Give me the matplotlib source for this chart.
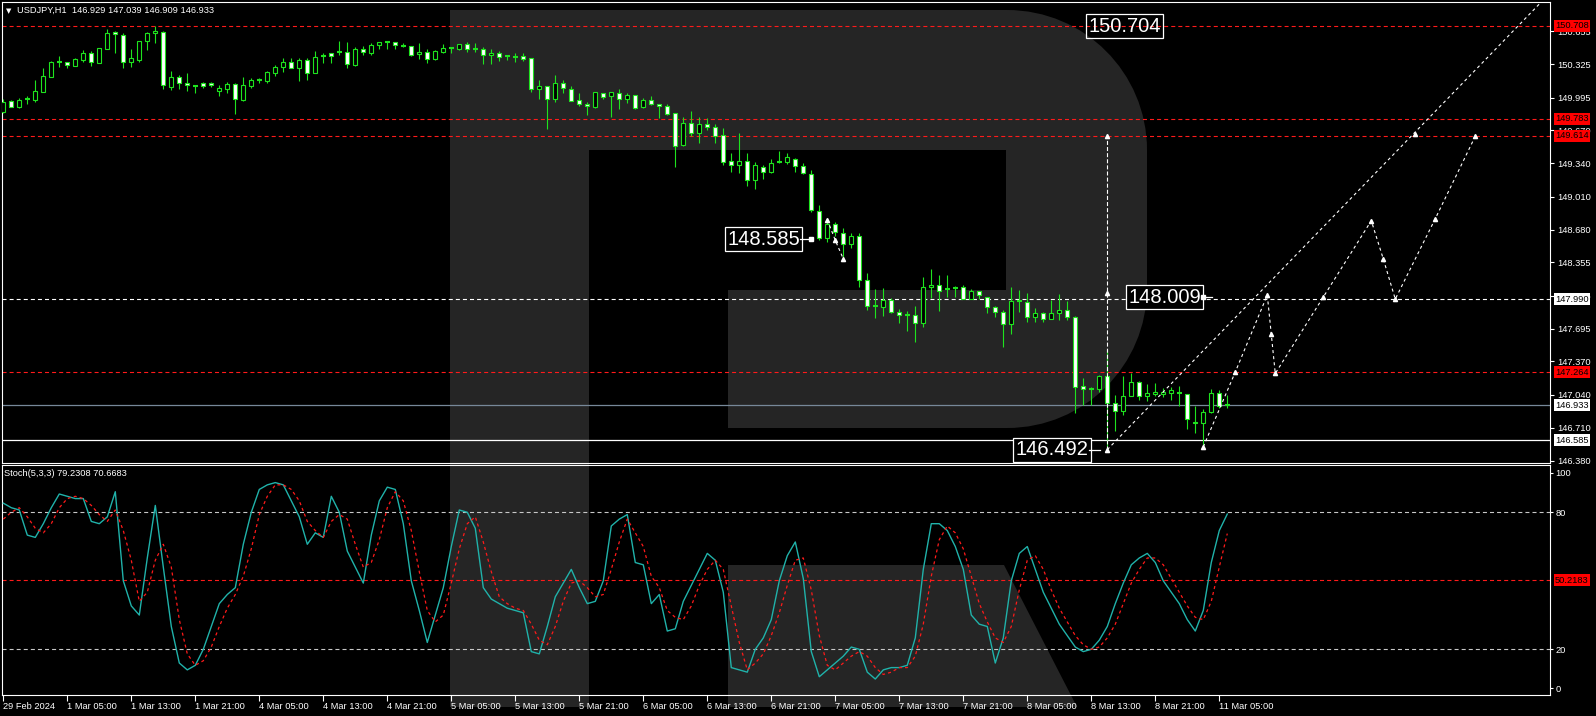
import matplotlib
matplotlib.use("Agg")
import matplotlib.pyplot as plt
from matplotlib.path import Path
from matplotlib.patches import PathPatch, Polygon
import numpy as np

plt.rcParams['font.family'] = ['Liberation Sans', 'DejaVu Sans']
plt.rcParams['lines.scale_dashes'] = False

# USDJPY H1, bar 0 = 29 Feb 21:00 ... bar 153 = 11 Mar 06:00
opens = [149.855, 149.958, 149.904, 149.975, 149.971, 150.054, 150.203, 150.345, 150.346, 150.312,
         150.369, 150.436, 150.342, 150.481, 150.648, 150.615, 150.346, 150.366, 150.555, 150.635,
         150.651, 150.103, 150.197, 150.137, 150.115, 150.137, 150.137, 150.058, 150.083, 150.127,
         149.968, 150.113, 150.165, 150.157, 150.237, 150.296, 150.349, 150.292, 150.366, 150.237,
         150.410, 150.436, 150.440, 150.446, 150.322, 150.476, 150.436, 150.515, 150.543, 150.545,
         150.510, 150.505, 150.426, 150.449, 150.382, 150.449, 150.488, 150.481, 150.525, 150.480,
         150.476, 150.416, 150.436, 150.405, 150.400, 150.406, 150.386, 150.077, 150.110, 149.978,
         150.137, 150.077, 149.968, 149.928, 149.905, 150.038, 150.008, 150.038, 149.984, 150.018,
         149.898, 149.971, 149.928, 149.908, 149.839, 149.526, 149.739, 149.640, 149.729, 149.699,
         149.620, 149.361, 149.321, 149.361, 149.172, 149.307, 149.258, 149.350, 149.351, 149.381,
         149.314, 149.239, 148.866, 148.598, 148.737, 148.648, 148.538, 148.618, 148.180, 147.920,
         147.914, 147.981, 147.859, 147.829, 147.829, 147.755, 148.107, 148.127, 148.092, 148.097,
         148.107, 147.994, 148.068, 148.008, 147.908, 147.859, 147.739, 147.968, 147.961, 147.809,
         147.849, 147.795, 147.849, 147.882, 147.809, 147.125, 147.090, 147.092, 147.225, 146.953,
         146.880, 147.026, 147.168, 147.026, 147.043, 147.043, 147.053, 147.052, 147.043, 146.770,
         146.754, 146.870, 147.059, 146.929]
highs = [149.978, 149.971, 149.991, 150.014, 150.170, 150.286, 150.359, 150.409, 150.352, 150.386,
         150.469, 150.459, 150.491, 150.677, 150.661, 150.638, 150.479, 150.560, 150.645, 150.708,
         150.658, 150.260, 150.217, 150.240, 150.120, 150.153, 150.153, 150.120, 150.150, 150.137,
         150.197, 150.193, 150.187, 150.263, 150.319, 150.386, 150.386, 150.386, 150.386, 150.459,
         150.442, 150.442, 150.558, 150.551, 150.501, 150.511, 150.535, 150.551, 150.558, 150.548,
         150.535, 150.511, 150.541, 150.476, 150.469, 150.528, 150.501, 150.531, 150.545, 150.541,
         150.501, 150.479, 150.459, 150.419, 150.436, 150.436, 150.390, 150.170, 150.113, 150.217,
         150.170, 150.110, 150.038, 149.951, 150.050, 150.040, 150.050, 150.083, 150.038, 150.020,
         149.991, 150.008, 149.930, 149.928, 149.842, 149.799, 149.862, 149.799, 149.789, 149.732,
         149.689, 149.441, 149.640, 149.441, 149.351, 149.321, 149.381, 149.463, 149.447, 149.391,
         149.345, 149.275, 148.926, 148.777, 148.757, 148.697, 148.648, 148.648, 148.250, 148.087,
         148.097, 148.001, 147.891, 147.875, 147.921, 148.207, 148.286, 148.230, 148.227, 148.120,
         148.130, 148.087, 148.070, 148.010, 147.921, 147.882, 148.107, 148.080, 148.048, 147.898,
         147.865, 147.981, 148.041, 147.968, 147.822, 147.202, 147.118, 147.235, 147.484, 147.036,
         147.225, 147.252, 147.170, 147.145, 147.152, 147.102, 147.118, 147.125, 147.045, 146.926,
         146.894, 147.092, 147.085, 147.039]
lows = [149.839, 149.898, 149.891, 149.931, 149.948, 150.050, 150.200, 150.302, 150.292, 150.310,
        150.352, 150.312, 150.336, 150.475, 150.436, 150.292, 150.302, 150.352, 150.469, 150.541,
        150.077, 150.071, 150.083, 150.064, 150.044, 150.087, 150.097, 150.014, 150.038, 149.829,
        149.965, 150.087, 150.137, 150.137, 150.213, 150.253, 150.286, 150.163, 150.170, 150.235,
        150.336, 150.336, 150.419, 150.292, 150.312, 150.419, 150.419, 150.476, 150.479, 150.476,
        150.495, 150.406, 150.376, 150.342, 150.369, 150.442, 150.436, 150.471, 150.452, 150.452,
        150.329, 150.329, 150.362, 150.369, 150.352, 150.362, 150.054, 149.984, 149.682, 149.954,
        150.044, 149.960, 149.914, 149.822, 149.894, 149.981, 149.805, 149.884, 149.944, 149.884,
        149.895, 149.921, 149.795, 149.819, 149.307, 149.516, 149.613, 149.546, 149.672, 149.540,
        149.321, 149.258, 149.248, 149.115, 149.082, 149.188, 149.242, 149.341, 149.334, 149.258,
        149.230, 148.857, 148.578, 148.558, 148.618, 148.389, 148.498, 148.110, 147.882, 147.799,
        147.822, 147.851, 147.755, 147.675, 147.566, 147.715, 147.998, 147.875, 148.014, 148.014,
        147.988, 147.988, 147.988, 147.855, 147.815, 147.516, 147.643, 147.862, 147.762, 147.762,
        147.762, 147.793, 147.782, 147.782, 146.860, 146.936, 146.936, 147.069, 146.492, 146.681,
        146.837, 147.024, 146.986, 146.979, 147.029, 147.016, 146.986, 146.926, 146.697, 146.661,
        146.521, 146.860, 146.906, 146.909]
closes = [149.954, 149.904, 149.971, 149.978, 150.061, 150.210, 150.349, 150.348, 150.316, 150.379,
          150.436, 150.346, 150.485, 150.635, 150.625, 150.346, 150.386, 150.555, 150.635, 150.655,
          150.117, 150.197, 150.140, 150.117, 150.112, 150.107, 150.117, 150.090, 150.127, 149.978,
          150.117, 150.170, 150.168, 150.250, 150.296, 150.349, 150.292, 150.369, 150.237, 150.402,
          150.413, 150.412, 150.444, 150.326, 150.476, 150.446, 150.515, 150.545, 150.546, 150.515,
          150.513, 150.416, 150.449, 150.382, 150.459, 150.485, 150.492, 150.525, 150.481, 150.482,
          150.416, 150.439, 150.402, 150.407, 150.403, 150.382, 150.077, 150.110, 149.978, 150.137,
          150.087, 149.964, 149.928, 149.908, 150.048, 149.998, 150.048, 149.984, 150.018, 149.894,
          149.971, 149.928, 149.908, 149.835, 149.516, 149.739, 149.640, 149.729, 149.699, 149.616,
          149.357, 149.321, 149.361, 149.172, 149.321, 149.252, 149.341, 149.352, 149.401, 149.314,
          149.245, 148.873, 148.598, 148.737, 148.658, 148.538, 148.618, 148.180, 147.924, 147.922,
          147.981, 147.859, 147.829, 147.831, 147.755, 148.113, 148.130, 148.073, 148.094, 148.099,
          147.994, 148.068, 148.031, 147.908, 147.859, 147.739, 147.971, 147.970, 147.809, 147.849,
          147.795, 147.849, 147.882, 147.809, 147.118, 147.092, 147.093, 147.225, 146.953, 146.880,
          147.026, 147.168, 147.026, 147.059, 147.063, 147.069, 147.083, 147.054, 146.794, 146.754,
          146.870, 147.059, 146.929, 146.933]

stoch_k = [84, 82, 81, 70, 69, 75, 82, 88, 87, 86, 86, 76, 75, 78, 89, 50, 39, 35, 60, 83,
           56, 30, 14, 11, 13, 20, 30, 40, 44, 47, 66, 80, 90, 92, 93, 92, 85, 78, 66, 71,
           69, 87, 80, 63, 56, 49, 70, 85, 91, 90, 75, 50, 37, 23, 35, 47, 65, 81, 80, 73,
           47, 42, 40, 38, 37, 36, 19, 18, 30, 43, 49, 55, 47, 40, 41, 50, 74, 77, 79, 58,
           57, 40, 44, 28, 29, 41, 48, 55, 62, 59, 45, 12, 11, 10, 20, 25, 33, 50, 61, 67,
           51, 19, 8, 11, 14, 17, 21, 20, 10, 7, 11, 12, 12, 13, 25, 55, 75, 75, 72, 65,
           55, 35, 31, 30, 14, 25, 50, 62, 65, 55, 45, 38, 31, 26, 21, 19, 20, 24, 30, 40,
           49, 57, 60, 62, 58, 50, 45, 40, 33, 28, 37, 58, 72, 79.23]
stoch_d = [77, 80, 82, 78, 73, 71, 75, 82, 86, 87, 86, 83, 79, 76, 81, 72, 59, 41, 45, 59,
           66, 56, 33, 18, 13, 15, 21, 30, 38, 44, 52, 64, 79, 87, 92, 92, 90, 85, 76, 72,
           69, 76, 79, 77, 66, 56, 58, 68, 82, 89, 85, 72, 54, 37, 32, 35, 49, 64, 75, 78,
           67, 54, 43, 40, 38, 37, 31, 24, 22, 30, 41, 49, 50, 47, 43, 44, 55, 67, 77, 71,
           65, 52, 47, 37, 34, 33, 39, 48, 55, 59, 55, 39, 23, 11, 14, 18, 26, 36, 48, 59,
           60, 46, 26, 13, 11, 14, 17, 19, 17, 12, 9, 10, 12, 12, 17, 31, 52, 68, 74, 71,
           64, 52, 40, 32, 25, 23, 30, 46, 59, 61, 55, 46, 38, 32, 26, 22, 20, 21, 25, 31,
           40, 49, 55, 60, 60, 57, 51, 45, 39, 34, 33, 41, 56, 70.67]

time_labels = ["29 Feb 2024", "1 Mar 05:00", "1 Mar 13:00", "1 Mar 21:00", "4 Mar 05:00",
               "4 Mar 13:00", "4 Mar 21:00", "5 Mar 05:00", "5 Mar 13:00", "5 Mar 21:00",
               "6 Mar 05:00", "6 Mar 13:00", "6 Mar 21:00", "7 Mar 05:00", "7 Mar 13:00",
               "7 Mar 21:00", "8 Mar 05:00", "8 Mar 13:00", "8 Mar 21:00", "11 Mar 05:00"]
price_ticks = [150.655, 150.325, 149.995, 149.670, 149.340, 149.010, 148.680, 148.355,
               148.025, 147.695, 147.370, 147.040, 146.710, 146.380]
red_levels = [150.708, 149.783, 149.614, 147.264]
white_level = 147.990
bid = 146.933
support = 146.585

# forecast drawing
trend_x = [138, 192.3]
trend_y = [146.492, 150.95]
zig_x = [150, 154, 158, 158.5, 159, 165, 171, 172.5, 174, 179, 184]
zig_y = [146.52, 147.264, 148.03, 147.64, 147.25, 148.01, 148.77, 148.39, 147.99, 148.79, 149.61]
target_x = [138, 138, 138]
target_y = [146.492, 148.054, 149.614]
small_x = [103, 104, 105]
small_y = [148.78, 148.575, 148.39]

W, H = 1596, 716
fig = plt.figure(figsize=(W / 100, H / 100), dpi=100, facecolor='black')


def frac(x0, y0, x1, y1):
    return [x0 / W, 1 - y1 / H, (x1 - x0) / W, (y1 - y0) / H]


# watermark logo behind the panels
bg = fig.add_axes([0, 0, 1, 1], zorder=0)
bg.set_xlim(0, W)
bg.set_ylim(H, 0)
bg.axis('off')
logo = '#252525'
r = 140
k = 0.552 * r
verts = [(450, 10), (1007, 10), (1007 + k, 10), (1147, 150 - k), (1147, 150), (1147, 288),
         (1147, 288 + k), (1007 + k, 428), (1007, 428), (728, 428), (728, 290), (1006, 290),
         (1006, 150), (589, 150), (589, 707), (450, 707), (450, 10)]
codes = [Path.MOVETO, Path.LINETO, Path.CURVE4, Path.CURVE4, Path.CURVE4, Path.LINETO,
         Path.CURVE4, Path.CURVE4, Path.CURVE4, Path.LINETO, Path.LINETO, Path.LINETO,
         Path.LINETO, Path.LINETO, Path.LINETO, Path.LINETO, Path.CLOSEPOLY]
bg.add_patch(PathPatch(Path(verts, codes), fc=logo, ec='none'))
bg.add_patch(Polygon([(728, 565), (1004, 565), (1077, 707), (728, 707)], closed=True, fc=logo, ec='none'))

ax = fig.add_axes(frac(2.3, 2.3, 1550, 462.5), zorder=1)
ax2 = fig.add_axes(frac(2.3, 465, 1550, 695), zorder=1)
for a in (ax, ax2):
    a.set_facecolor('none')
    for s in a.spines.values():
        s.set_color('white')
        s.set_linewidth(0.8)
    a.set_xlim(-0.125, 193.34)

ax.set_ylim(146.364, 150.943)
ax2.set_ylim(0, 100.7)

green = '#1ee31e'
x = np.arange(len(opens))
o = np.array(opens)
h = np.array(highs)
l = np.array(lows)
c = np.array(closes)
doji = np.abs(c - o) < 0.0045
up = (c > o) & ~doji
dn = (c < o) & ~doji

# levels
for lv in red_levels:
    ax.axhline(lv, color='#ff1a1a', lw=0.8, ls=(0, (2.9, 2.2)), zorder=1)
ax.axhline(white_level, color='white', lw=0.8, ls=(0, (2.9, 2.2)), zorder=1)
ax.axhline(bid, color='#778899', lw=0.9, zorder=1)
ax.axhline(support, color='white', lw=0.9, zorder=1)

# candles
ax.vlines(x, l, h, color=green, lw=0.8, zorder=3)
ax.bar(x[up], (c - o)[up], bottom=o[up], width=0.5, color='black', edgecolor=green, lw=0.8, zorder=4)
ax.bar(x[dn], (o - c)[dn], bottom=c[dn], width=0.5, color='white', edgecolor=green, lw=0.8, zorder=4)
ax.hlines(c[doji], x[doji] - 0.32, x[doji] + 0.32, color=green, lw=1.5, zorder=4)

# forecast lines
dot = (0, (2.2, 2.2))
ax.plot(trend_x, trend_y, color='white', lw=0.8, ls=dot, zorder=5)
ax.plot([176.5], [149.63], '^', color='white', ms=3, zorder=6)
ax.plot(zig_x, zig_y, color='white', lw=0.8, ls=dot, marker='^', ms=3, zorder=5)
ax.plot(target_x, target_y, color='white', lw=0.8, ls=(0, (2.9, 1.5)), marker='^', ms=3, zorder=5)
ax.plot(small_x, small_y, color='white', lw=0.8, ls=dot, marker='^', ms=3, zorder=5)

# price tags
def big_tag(xc, y, s, fill):
    ax.text(xc, y, s, ha='center', va='center', fontsize=14.5, color='white', zorder=8,
            bbox=dict(boxstyle='square,pad=0.12', fc=fill, ec='white', lw=0.9))

big_tag(140.15, 150.704, "150.704", 'none')
big_tag(95.05, 148.585, "148.585", 'black')
big_tag(145.15, 148.009, "148.009", 'black')
big_tag(131.1, 146.492, "146.492", 'black')
for x0, x1, y in [(99.6, 101.0, 148.585), (149.8, 151.1, 148.009), (135.7, 137.1, 146.492)]:
    ax.plot([x0, x1], [y, y], color='white', lw=0.9, zorder=8)
ax.plot([150.0], [148.009], 's', color='white', ms=2.5, zorder=8)
ax.plot([101.0], [148.585], 's', color='white', ms=2.5, zorder=8)

# right price axis
ax.yaxis.tick_right()
ax.set_yticks(price_ticks)
ax.set_yticklabels([f"{v:.3f}" for v in price_ticks])
ax.tick_params(axis='y', colors='white', labelsize=6.7, length=3, width=0.8, pad=2)
ax.set_xticks([])


def level_tag(a, y, s, fc):
    a.text(1.0032, y, s, transform=a.get_yaxis_transform(), ha='left', va='center',
           fontsize=6.7, color='black', clip_on=False, zorder=10,
           bbox=dict(boxstyle='square,pad=0.15', fc=fc, ec='none'))


for lv in red_levels:
    level_tag(ax, lv, f"{lv:.3f}", '#ff0000')
level_tag(ax, white_level, f"{white_level:.3f}", 'white')
level_tag(ax, bid, f"{bid:.3f}", 'white')
level_tag(ax, support, f"{support:.3f}", 'white')

# stochastic
ax2.axhline(80, color='#c8c8c8', lw=0.8, ls=(0, (2.9, 2.2)))
ax2.axhline(20, color='#c8c8c8', lw=0.8, ls=(0, (2.9, 2.2)))
ax2.axhline(50.2183, color='#ff1a1a', lw=0.8, ls=(0, (2.9, 2.2)))
ax2.plot(x, stoch_k, color='#20b2aa', lw=1.0, zorder=3)
ax2.plot(x, stoch_d, color='#ff1a1a', lw=0.9, ls=(0, (2.2, 2.2)), zorder=3)
ax2.yaxis.tick_right()
ax2.set_yticks([2.9, 20, 80, 97.3])
ax2.set_yticklabels(['0', '20', '80', '100'])
ax2.tick_params(axis='y', colors='white', labelsize=6.7, length=2, width=0.8, pad=2)
level_tag(ax2, 50.2183, "50.2183", '#ff0000')

ax2.set_xticks(np.arange(0, 153, 8))
ax2.set_xticklabels(time_labels)
for lbl in ax2.get_xticklabels():
    lbl.set_ha('left')
ax2.tick_params(axis='x', colors='white', labelsize=6.7, length=4, width=0.8, pad=1)

# headers
fig.text(6 / W, 1 - 11 / H, '\u25bc', fontsize=5, color='white', va='center', family='DejaVu Sans')
fig.text(17 / W, 1 - 10.7 / H, "USDJPY,H1  146.929 147.039 146.909 146.933",
         fontsize=6.7, color='white', va='center')
fig.text(4 / W, 1 - 474 / H, "Stoch(5,3,3) 79.2308 70.6683", fontsize=6.7, color='white', va='center')

fig.savefig("out.png", dpi=100, facecolor='black')
